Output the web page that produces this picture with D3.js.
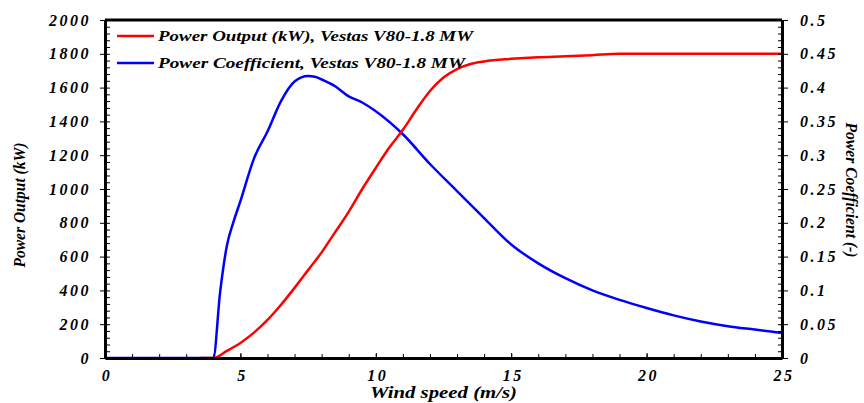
<!DOCTYPE html>
<html>
<head>
<meta charset="utf-8">
<script src="https://cdn.jsdelivr.net/npm/d3@7"></script>
<style>
  body { margin: 0; background: #fff; }
</style>
</head>
<body>
<div id="c1"></div>
<script>
// Data
var speedP = [3.5, 4, 4.5, 5, 5.5, 6, 6.5, 7, 7.5, 8, 8.5, 9, 9.5, 10, 10.5, 11, 11.5, 12, 12.5, 13, 13.5, 14, 15, 16, 17, 18, 19, 20, 25];
var power = [0, 0, 42, 89, 150, 225, 315, 415, 520, 625, 745, 865, 1000, 1125, 1245, 1350, 1470, 1580, 1660, 1710, 1740, 1755, 1770, 1780, 1785, 1792, 1800, 1800, 1800];

var speedCp = [0, 3.5, 4, 4.25, 4.5, 4.75, 5, 5.5, 6, 6.5, 7, 7.5, 7.75, 8, 8.5, 9, 9.5, 10, 11, 12, 13, 14, 15, 16, 17, 18, 19, 20, 21, 22, 23, 24, 25];
var cp = [0, 0, 0, 0.097, 0.166, 0.202, 0.232, 0.295, 0.335, 0.38, 0.409, 0.417, 0.416, 0.412, 0.402, 0.387, 0.378, 0.365, 0.331, 0.287, 0.247, 0.207, 0.168, 0.14, 0.118, 0.1, 0.086, 0.074, 0.063, 0.054, 0.047, 0.042, 0.037];

var xTicks = [0, 5, 10, 15, 20, 25];
var yTicks = [0, 200, 400, 600, 800, 1000, 1200, 1400, 1600, 1800, 2000];
var y2Ticks = [0, 0.05, 0.1, 0.15, 0.2, 0.25, 0.3, 0.35, 0.4, 0.45, 0.5];

var legendNames = ["Power Output (kW), Vestas V80-1.8 MW", "Power Coefficient, Vestas V80-1.8 MW"];
var colors = ["#ff0000", "#0000ff"];

var FONT = "'Liberation Serif', 'Times New Roman', serif";

var W = 864, H = 403;
var m = { left: 105, right: 82, top: 20, bottom: 45 };
var iw = W - m.left - m.right, ih = H - m.top - m.bottom;

var svg = d3.select("#c1").append("svg")
    .attr("width", W)
    .attr("height", H);

var g = svg.append("g").attr("transform", "translate(" + m.left + "," + m.top + ")");

var x = d3.scaleLinear().domain([0, 25]).range([0, iw]);
var y = d3.scaleLinear().domain([0, 2000]).range([ih, 0]);
var y2 = d3.scaleLinear().domain([0, 0.5]).range([ih, 0]);

// Curves (blue first so red shows on the axis between 3.5 and 4)
var lineCp = d3.line()
    .x(function (d, i) { return x(speedCp[i]); })
    .y(function (d) { return y2(d); })
    .curve(d3.curveMonotoneX);
var lineP = d3.line()
    .x(function (d, i) { return x(speedP[i]); })
    .y(function (d) { return y(d); })
    .curve(d3.curveMonotoneX);

g.append("path").datum(cp)
    .attr("d", lineCp)
    .attr("fill", "none")
    .attr("stroke", colors[1])
    .attr("stroke-width", 2.5);
g.append("path").datum(power)
    .attr("d", lineP)
    .attr("fill", "none")
    .attr("stroke", colors[0])
    .attr("stroke-width", 2.5);

// Minor ticks
var xMinor = d3.range(0, 26, 1);
var yMinor = d3.range(0, 2001, 40);
var y2Minor = d3.range(0, 51, 1).map(function (d) { return d / 100; });

g.append("g").attr("transform", "translate(0," + ih + ")")
    .call(d3.axisBottom(x).tickValues(xMinor).tickSize(-4).tickSizeOuter(0).tickFormat(""))
    .call(function (s) { s.select(".domain").remove(); });
g.append("g")
    .call(d3.axisLeft(y).tickValues(yMinor).tickSize(-5).tickSizeOuter(0).tickFormat(""))
    .call(function (s) { s.select(".domain").remove(); });
g.append("g").attr("transform", "translate(" + iw + ",0)")
    .call(d3.axisRight(y2).tickValues(y2Minor).tickSize(-4).tickSizeOuter(0).tickFormat(""))
    .call(function (s) { s.select(".domain").remove(); });

// Major ticks and labels
var xAxis = g.append("g").attr("transform", "translate(0," + ih + ")")
    .call(d3.axisBottom(x).tickValues(xTicks).tickSize(-5).tickSizeOuter(0).tickPadding(12)
        .tickFormat(d3.format("d")));
var yAxis = g.append("g")
    .call(d3.axisLeft(y).tickValues(yTicks).tickSize(5).tickSizeOuter(0).tickPadding(9)
        .tickFormat(d3.format("d")));
var y2Axis = g.append("g").attr("transform", "translate(" + iw + ",0)")
    .call(d3.axisRight(y2).tickValues(y2Ticks).tickSize(6).tickSizeOuter(0).tickPadding(12)
        .tickFormat(function (d) { return String(+d.toFixed(2)); }));

[xAxis, yAxis, y2Axis].forEach(function (a) {
    a.attr("font-family", FONT);
    a.select(".domain").attr("stroke-width", 3);
    a.selectAll("text")
        .attr("font-family", FONT)
        .attr("font-weight", "bold")
        .attr("font-style", "italic")
        .attr("font-size", 16)
        .attr("fill", "#000")
        .style("letter-spacing", "2.5px");
});
xAxis.selectAll("text").attr("dx", "1.5px");

svg.selectAll(".tick line").attr("stroke", "#000").attr("stroke-width", 1);

// top frame line
g.append("line")
    .attr("x1", 0).attr("x2", iw)
    .attr("y1", 0).attr("y2", 0)
    .attr("stroke", "#000")
    .attr("stroke-width", 3);

function label(sel) {
    return sel.attr("font-family", FONT)
        .attr("font-weight", "bold")
        .attr("font-style", "italic")
        .attr("fill", "#000")
        .attr("lengthAdjust", "spacingAndGlyphs");
}

// Axis titles
svg.append("text").call(label)
    .attr("x", m.left + iw / 2)
    .attr("y", 398)
    .attr("text-anchor", "middle")
    .attr("font-size", 16)
    .attr("textLength", 147)
    .text("Wind speed (m/s)");

svg.append("text").call(label)
    .attr("transform", "translate(25,205) rotate(-90)")
    .attr("text-anchor", "middle")
    .attr("font-size", 16)
    .attr("textLength", 125)
    .text("Power Output (kW)");

svg.append("text").call(label)
    .attr("transform", "translate(846,190) rotate(90)")
    .attr("text-anchor", "middle")
    .attr("font-size", 16)
    .attr("textLength", 135)
    .text("Power Coefficient (-)");

// Legend
var legend = g.selectAll("g.leg")
    .data(legendNames)
    .enter().append("g")
    .attr("class", "leg")
    .attr("transform", function (d, i) { return "translate(12," + (16 + i * 27) + ")"; });

legend.append("line")
    .attr("x1", 0).attr("x2", 37)
    .attr("y1", 0).attr("y2", 0)
    .attr("stroke", function (d, i) { return colors[i]; })
    .attr("stroke-width", 2.5);

legend.append("text").call(label)
    .attr("x", 41)
    .attr("y", 5)
    .attr("font-size", 15)
    .attr("textLength", function (d, i) { return i === 0 ? 315 : 307; })
    .text(function (d) { return d; });
</script>
</body>
</html>
